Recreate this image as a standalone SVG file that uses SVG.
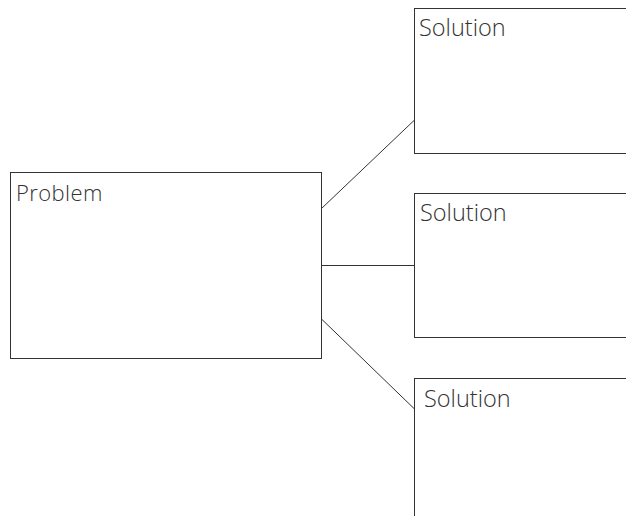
<svg xmlns="http://www.w3.org/2000/svg" width="626" height="516" viewBox="0 0 626 516">
<style>
.box{fill:#fff;stroke:#333;stroke-width:1}
.conn{stroke:#333;stroke-width:1;fill:none}
.t{font-family:"Open Sans","Liberation Sans",sans-serif;font-weight:300;fill:#333}
</style>
<rect width="626" height="516" fill="#fff"/>
<g id="connectors">
<line class="conn" x1="321.5" y1="208.5" x2="414.5" y2="120"/>
<line class="conn" x1="321.5" y1="265.5" x2="414.5" y2="265.5"/>
<line class="conn" x1="321.5" y1="319" x2="414.5" y2="409"/>
</g>
<g id="problem">
<rect class="box" x="10.5" y="172.5" width="311" height="186"/>
<text class="t" x="16" y="201" font-size="22" letter-spacing="0.4">Problem</text>
</g>
<g id="solution1">
<rect class="box" x="414.5" y="8.5" width="220" height="145"/>
<text class="t" x="419" y="36" font-size="23.5">Solution</text>
</g>
<g id="solution2">
<rect class="box" x="414.5" y="193.5" width="220" height="144"/>
<text class="t" x="420" y="221" font-size="23.5">Solution</text>
</g>
<g id="solution3">
<rect class="box" x="414.5" y="378.5" width="220" height="150"/>
<text class="t" x="424" y="406.5" font-size="23.5">Solution</text>
</g>
</svg>
